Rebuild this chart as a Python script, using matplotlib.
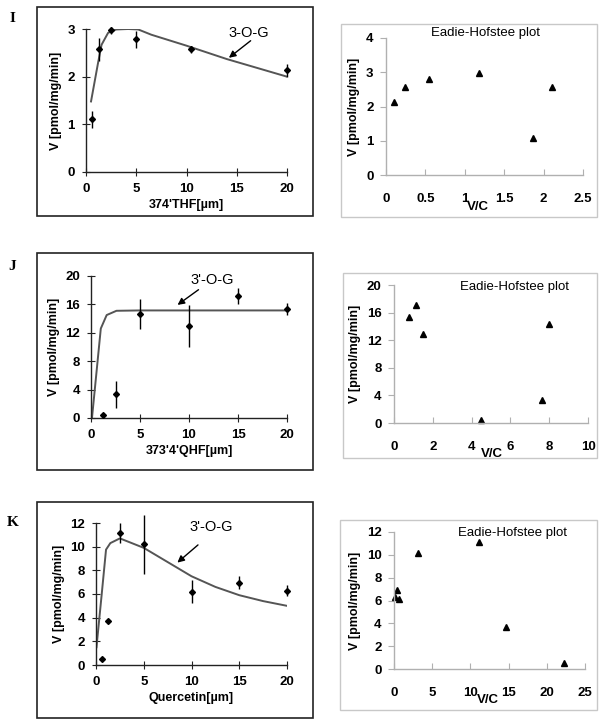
import matplotlib
matplotlib.use("Agg")
import matplotlib.pyplot as plt
from matplotlib.patches import Rectangle

W, H = 604, 727  # figure size in pixels (dpi 100)

SANS = ["Liberation Sans", "DejaVu Sans"]
SERIF = ["Liberation Serif", "DejaVu Serif"]

plt.rcParams["font.family"] = SANS
plt.rcParams["font.weight"] = "bold"   # tick labels are bold everywhere
plt.rcParams["axes.labelweight"] = "bold"

# ------------------------------------------------------------------------------

# Panel I : 374'THF

i_conc = [0.6, 1.25, 2.5, 5, 10.4, 20]
i_rate = [1.11, 2.57, 2.97, 2.78, 2.57, 2.13]
i_err = [0.18, 0.25, 0.07, 0.17, 0.07, 0.14]
i_fit_x = [0.5, 1.2, 1.55, 2.2, 3, 4.2, 5.2, 6.5, 10, 14, 20]
i_fit_y = [1.48, 2.29, 2.67, 2.92, 2.99, 3.0, 2.99, 2.88, 2.65, 2.37, 2.0]
i_eh_vc = [0.1, 0.24, 0.55, 1.18, 1.86, 2.11]
i_eh_v = [2.13, 2.57, 2.79, 2.98, 1.07, 2.57]

# Panel J : 373'4'QHF

j_conc = [1.25, 2.5, 5, 10, 15, 20]
j_rate = [0.4, 3.37, 14.66, 12.97, 17.2, 15.36]
j_err = [0.2, 1.9, 2.1, 3.0, 1.1, 0.8]
j_fit_x = [0.1, 1.0, 1.6, 2.6, 5, 10, 15, 20]
j_fit_y = [0.0, 12.6, 14.5, 15.1, 15.15, 15.15, 15.15, 15.15]
j_eh_vc = [0.77, 1.11, 1.49, 4.49, 7.65, 8.0]
j_eh_v = [15.4, 17.1, 12.9, 0.44, 3.3, 14.4]

# Panel K : Quercetin

k_conc = [0.6, 1.25, 2.5, 5, 10, 15, 20]
k_rate = [0.5, 3.73, 11.16, 10.2, 6.2, 6.97, 6.27]
k_err = [0.05, 0.1, 0.85, 2.5, 1.0, 0.55, 0.45]
k_fit_x = [0.05, 0.6, 1.05, 1.5, 2.5, 5, 7.5, 10, 12.5, 15, 17.5, 20]
k_fit_y = [1.5, 6.0, 9.75, 10.3, 10.7, 9.9, 8.7, 7.5, 6.6, 5.9, 5.4, 5.0]
k_eh_vc = [0.13, 0.44, 0.7, 3.1, 11.1, 14.7, 22.2]
k_eh_v = [6.34, 6.92, 6.13, 10.2, 11.13, 3.66, 0.49]

# ------------------------------------------------------------------------------

fig = plt.figure(figsize=(W / 100, H / 100), dpi=100)


def px_rect(x0, y0, x1, y1):
    """Pixel box (top-left origin) -> figure fraction [l, b, w, h]."""
    return [x0 / W, 1 - y1 / H, (x1 - x0) / W, (y1 - y0) / H]


def frame(x0, y0, x1, y1, color, lw):
    l, b, w, h = px_rect(x0, y0, x1, y1)
    fig.patches.append(Rectangle((l, b), w, h, transform=fig.transFigure,
                                 fill=False, edgecolor=color, linewidth=lw))


def fig_text(x, y, s, **kw):
    fig.text(x / W, 1 - y / H, s, **kw)


def style_axes(ax, color):
    for side in ("top", "right"):
        ax.spines[side].set_visible(False)
    for side in ("left", "bottom"):
        ax.spines[side].set_color(color)
        ax.spines[side].set_linewidth(1.0)
    ax.tick_params(labelsize=9.5)


def kinetics(box, rect, conc, rate, err, fit_x, fit_y, ylim, yticks, xlab,
             note, note_xy, tail, head):
    frame(*box, color="#222222", lw=1.2)
    ax = fig.add_axes(px_rect(*rect))
    ax.plot(fit_x, fit_y, color="#555555", lw=1.4, zorder=2)
    ax.errorbar(conc, rate, yerr=err, fmt="D", ms=3, color="black",
                ecolor="black", elinewidth=1.0, capsize=0, zorder=3, clip_on=False)
    ax.set_xlim(0, 20)
    ax.set_ylim(*ylim)
    ax.set_xticks([0, 5, 10, 15, 20])
    ax.set_yticks(yticks)
    style_axes(ax, "#222222")
    ax.tick_params(axis="y", direction="inout", length=6, pad=5, color="#222222")
    ax.tick_params(axis="x", direction="inout", length=6, pad=5, color="#222222")
    ax.set_xlabel(xlab, fontsize=9, fontweight="bold", labelpad=3)
    ax.set_ylabel("V [pmol/mg/min]", fontsize=9, fontweight="bold", labelpad=4)
    ax.text(*note_xy, note, fontsize=10.5, fontweight="normal",
            ha="center", va="center")
    ax.annotate("", xy=head, xytext=tail,
                arrowprops=dict(arrowstyle="-|>", color="black", lw=1.0,
                                mutation_scale=10))
    return ax


def eadie(box, rect, vc, v, xlim, xticks, ylim, yticks, title_xy, vc_xy):
    frame(*box, color="#c8c8c8", lw=1.0)
    ax = fig.add_axes(px_rect(*rect))
    ax.plot(vc, v, "^", ms=5, color="black", clip_on=False)
    ax.set_xlim(*xlim)
    ax.set_ylim(*ylim)
    ax.set_xticks(xticks)
    ax.set_xticklabels([f"{t:g}" for t in xticks])
    ax.set_yticks(yticks)
    style_axes(ax, "#b0b0b0")
    ax.tick_params(axis="x", direction="in", length=4, pad=13, color="#b0b0b0")
    ax.tick_params(axis="y", direction="out", length=4, pad=5, color="#b0b0b0")
    ax.set_ylabel("V [pmol/mg/min]", fontsize=9, fontweight="bold", labelpad=4)
    fig_text(*title_xy, "Eadie-Hofstee plot", fontsize=9.5, fontweight="normal",
             ha="center", va="center")
    fig_text(*vc_xy, "V/C", fontsize=9.5, fontweight="bold",
             ha="center", va="center")
    return ax


# ------------------------------------------------------------------------------

kinetics((37, 7, 313, 216), (86, 29, 287, 172), i_conc, i_rate, i_err,
         i_fit_x, i_fit_y, (0, 3), [0, 1, 2, 3], "374'THF[µm]",
         "3-O-G", (16.2, 2.92), (16.6, 2.79), (14.0, 2.36))
kinetics((37, 253, 313, 470), (91, 276, 287, 418), j_conc, j_rate, j_err,
         j_fit_x, j_fit_y, (0, 20), [0, 4, 8, 12, 16, 20], "373'4'QHF[µm]",
         "3'-O-G", (12.35, 19.4), (11.2, 18.3), (8.6, 15.7))
kinetics((37, 502, 313, 718), (96, 523, 287, 665), k_conc, k_rate, k_err,
         k_fit_x, k_fit_y, (0, 12), [0, 2, 4, 6, 8, 10, 12], "Quercetin[µm]",
         "3'-O-G", (12.1, 11.7), (10.9, 10.3), (8.3, 8.5))

eadie((341, 24, 597, 217), (386, 38, 583, 175), i_eh_vc, i_eh_v,
      (0, 2.5), [0, 0.5, 1, 1.5, 2, 2.5], (0, 4), [0, 1, 2, 3, 4],
      (485, 33), (478, 207))
eadie((343, 273, 597, 458), (394, 285, 588, 423), j_eh_vc, j_eh_v,
      (0, 10), [0, 2, 4, 6, 8, 10], (0, 20), [0, 4, 8, 12, 16, 20],
      (515, 287), (492, 454))
eadie((340, 520, 597, 710), (394, 532, 585, 669), k_eh_vc, k_eh_v,
      (0, 25), [0, 5, 10, 15, 20, 25], (0, 12), [0, 2, 4, 6, 8, 10, 12],
      (512, 533), (488, 700))

# panel letters
for letter, (x, y) in zip("IJK", [(12, 18), (12, 267), (13, 522)]):
    fig_text(x, y, letter, fontsize=11, fontweight="bold", family=SERIF,
             ha="center", va="center")

fig.savefig("out.png", dpi=100, facecolor="white")
